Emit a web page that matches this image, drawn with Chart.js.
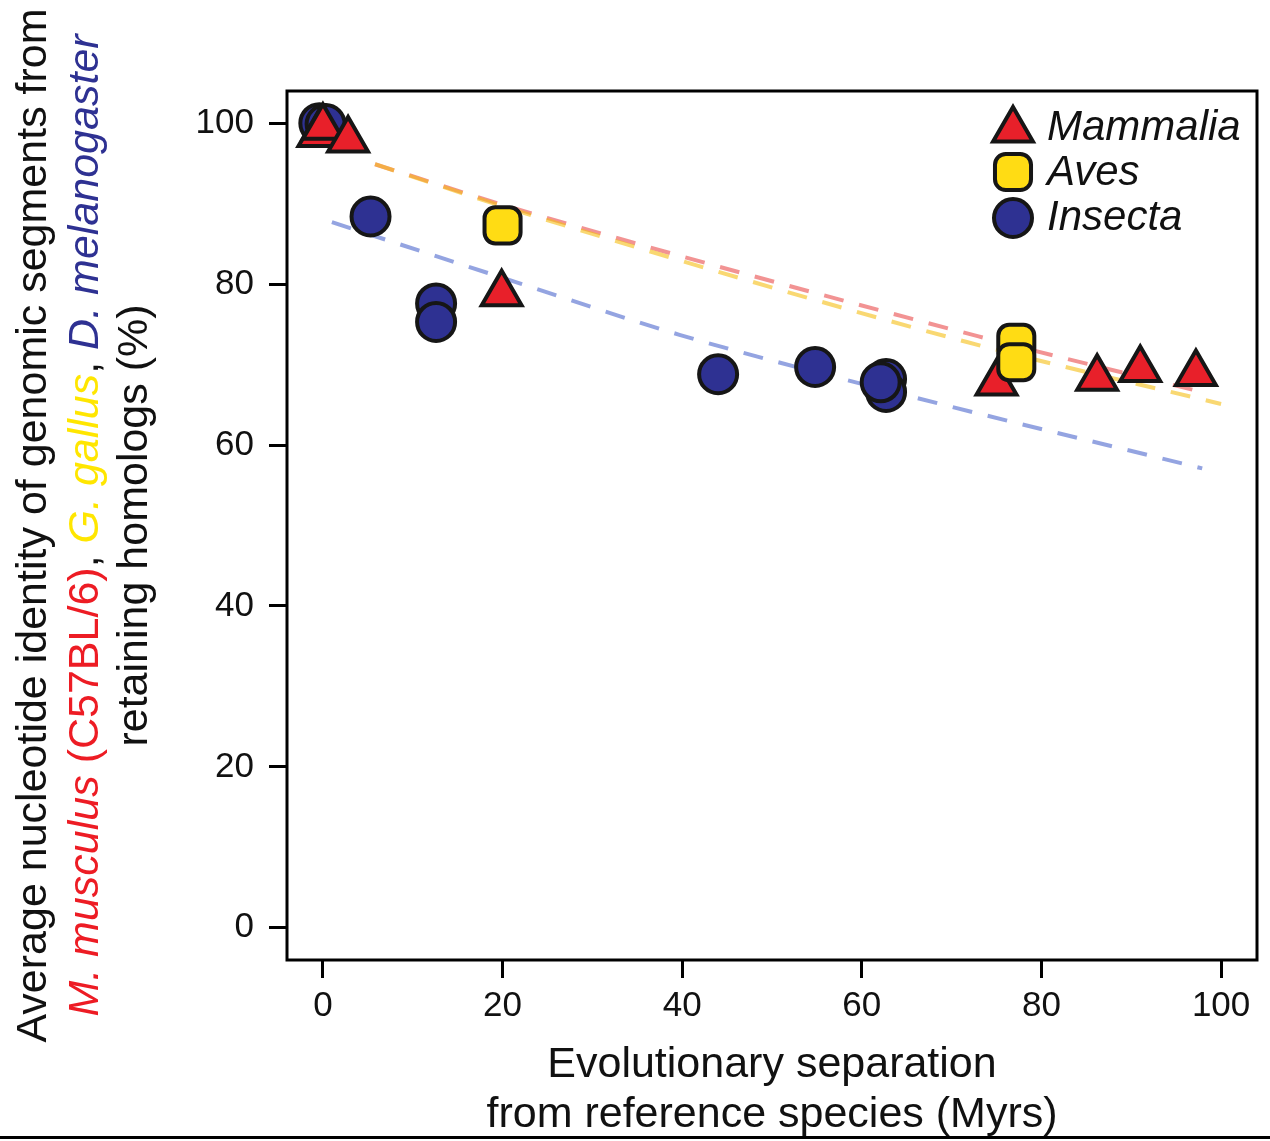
<!DOCTYPE html>
<html>
<head>
<meta charset="utf-8">
<script src="https://cdn.jsdelivr.net/npm/chart.js@4.4.1/dist/chart.umd.min.js"></script>
<style>
  html, body { margin: 0; padding: 0; background: #fff; }
  #wrap { width: 1270px; height: 1141px; }
</style>
</head>
<body>
<div id="wrap"><canvas id="chart" width="1270" height="1141"></canvas></div>
<script>
const xTicks = [0, 20, 40, 60, 80, 100];
const yTicks = [0, 20, 40, 60, 80, 100];

// measured points per group (Myrs, % identity)
const mammaliaX = [-0.5, 0, 2.8, 19.9, 75.0, 86.2, 91.0, 97.2];
const mammaliaY = [98.6, 99.5, 97.9, 78.8, 67.7, 68.3, 69.4, 68.9];
const avesX = [20.0, 77.2, 77.2];
const avesY = [87.3, 72.7, 70.3];
const insectaX = [-0.4, 0.3, 5.3, 12.6, 12.6, 44.0, 54.8, 62.7, 62.7, 62.1];
const insectaY = [100, 99.9, 88.4, 77.6, 75.3, 68.8, 69.7, 68.2, 66.6, 67.8];

// fitted trend curves
const mammaliaFitX = [5.8, 20.8, 73.0, 97.1];
const mammaliaFitY = [94.9, 89.6, 73.5, 66.8];
const avesFitX = [5.8, 20.8, 71.7, 100];
const avesFitY = [94.9, 89.4, 72.8, 65.1];
const insectaFitX = [1.0, 21.9, 39.7, 65.6, 97.9];
const insectaFitY = [87.7, 80.1, 73.7, 66.0, 57.1];

const FONT = "'Liberation Sans', Arial, Helvetica, sans-serif";
const RED = '#e8202a', YELLOW = '#ffdc14', BLUE = '#2e3192', EDGE = '#161616';

const pts = (xs, ys) => xs.map((x, i) => ({ x, y: ys[i] }));

const groups = [
  { label: 'Mammalia', style: 'triangle',    radius: 23, color: RED },
  { label: 'Aves',     style: 'rectRounded', radius: 21, color: YELLOW },
  { label: 'Insecta',  style: 'circle',      radius: 19, color: BLUE }
];

function fitLine(xs, ys, color) {
  return {
    type: 'line',
    data: pts(xs, ys),
    borderColor: color,
    borderWidth: 4,
    borderDash: [20, 16],
    pointRadius: 0,
    fill: false,
    cubicInterpolationMode: 'monotone',
    order: 10
  };
}

function markerSet(g, xs, ys, order) {
  return {
    label: g.label,
    data: pts(xs, ys),
    pointStyle: g.style,
    pointRadius: g.radius,
    pointHoverRadius: g.radius,
    backgroundColor: g.color,
    borderColor: EDGE,
    borderWidth: 4,
    order
  };
}

// frame around the plotting region + legend + multi-colour y title
const decorations = {
  id: 'decorations',
  afterDraw(chart) {
    const { ctx, chartArea: a } = chart;
    ctx.save();
    ctx.strokeStyle = '#000';
    ctx.lineWidth = 3;
    ctx.strokeRect(a.left, a.top, a.right - a.left, a.bottom - a.top);

    // legend
    const rows = [130, 172, 218];
    groups.forEach((g, i) => {
      ctx.fillStyle = g.color;
      ctx.strokeStyle = EDGE;
      ctx.lineWidth = 4;
      Chart.helpers.drawPoint(ctx, { pointStyle: g.style, radius: g.radius, rotation: 0, borderWidth: 4 }, 1013, rows[i]);
      ctx.fillStyle = '#111';
      ctx.font = 'italic 42px ' + FONT;
      ctx.textBaseline = 'alphabetic';
      ctx.textAlign = 'left';
      ctx.fillText(g.label, 1047, [140, 185, 230][i]);
    });

    // y axis title, three rotated lines
    const lines = [
      [{ t: 'Average nucleotide identity of genomic segments from', c: '#111' }],
      [
        { t: 'M. musculus', c: '#ed1c24', i: true },
        { t: ' (C57BL/6)', c: '#ed1c24' },
        { t: ', ', c: '#111' },
        { t: 'G. gallus', c: '#ffe600', i: true },
        { t: ', ', c: '#111' },
        { t: 'D. melanogaster', c: '#2e3192', i: true }
      ],
      [{ t: 'retaining homologs (%)', c: '#111' }]
    ];
    const baselines = [46, 98, 147];
    const cy = (a.top + a.bottom) / 2;
    lines.forEach((segs, li) => {
      const fontOf = s => (s.i ? 'italic ' : '') + '43px ' + FONT;
      let total = 0;
      segs.forEach(s => { ctx.font = fontOf(s); total += ctx.measureText(s.t).width; });
      ctx.save();
      ctx.translate(baselines[li], cy);
      ctx.rotate(-Math.PI / 2);
      ctx.textAlign = 'left';
      ctx.textBaseline = 'alphabetic';
      let x = -total / 2;
      segs.forEach(s => {
        ctx.font = fontOf(s);
        ctx.fillStyle = s.c;
        ctx.fillText(s.t, x, 0);
        x += ctx.measureText(s.t).width;
      });
      ctx.restore();
    });

    // rule under the figure
    ctx.fillStyle = '#000';
    ctx.fillRect(0, 1136, 1270, 3);
    ctx.restore();
  }
};

const tickFont = { family: FONT, size: 35 };

new Chart(document.getElementById('chart'), {
  type: 'scatter',
  data: {
    datasets: [
      fitLine(avesFitX, avesFitY, 'rgba(245,190,20,0.6)'),
      fitLine(mammaliaFitX, mammaliaFitY, 'rgba(230,40,40,0.5)'),
      fitLine(insectaFitX, insectaFitY, 'rgba(60,90,200,0.55)'),
      markerSet(groups[2], insectaX, insectaY, 3),
      markerSet(groups[0], mammaliaX, mammaliaY, 2),
      markerSet(groups[1], avesX, avesY, 1)
    ]
  },
  options: {
    responsive: false,
    animation: false,
    devicePixelRatio: 1,
    layout: { autoPadding: false, padding: { top: 91, right: 13, left: 0, bottom: 0 } },
    plugins: {
      legend: { display: false },
      tooltip: { enabled: false }
    },
    scales: {
      x: {
        type: 'linear',
        min: -4,
        max: 104,
        afterBuildTicks: s => { s.ticks = xTicks.map(v => ({ value: v })); },
        afterFit: s => { s.height = 181; s.paddingLeft = 0; s.paddingRight = 0; },
        border: { display: false },
        grid: { drawOnChartArea: false, drawTicks: true, tickLength: 18, tickWidth: 3, tickColor: '#000' },
        ticks: { font: tickFont, color: '#111', padding: 7, maxRotation: 0 },
        title: {
          display: true,
          text: ['Evolutionary separation', 'from reference species (Myrs)'],
          font: { family: FONT, size: 43, lineHeight: 1.16 },
          color: '#111',
          padding: { top: 0, bottom: 1 }
        }
      },
      y: {
        type: 'linear',
        min: -4,
        max: 104,
        afterBuildTicks: s => { s.ticks = yTicks.map(v => ({ value: v })); },
        afterFit: s => { s.width = 287; s.paddingTop = 0; s.paddingBottom = 0; },
        border: { display: false },
        grid: { drawOnChartArea: false, drawTicks: true, tickLength: 18, tickWidth: 3, tickColor: '#000' },
        ticks: { font: tickFont, color: '#111', padding: 15 }
      }
    }
  },
  plugins: [decorations]
});
</script>
</body>
</html>
